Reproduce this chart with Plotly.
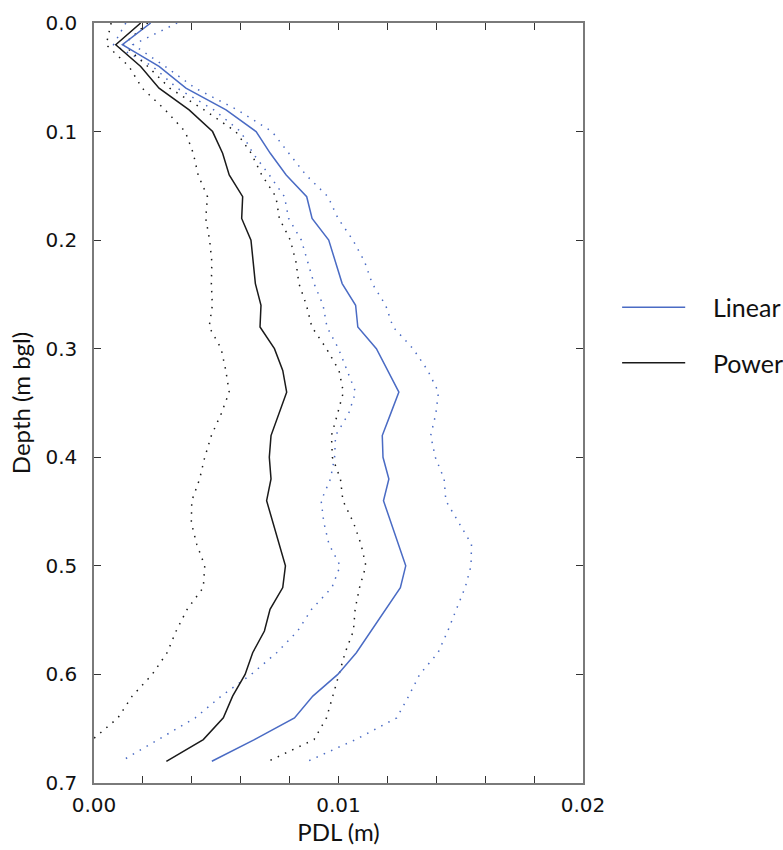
import plotly.graph_objects as go

# Depth below ground level (m)
depth = [0.00, 0.02, 0.04, 0.06, 0.08, 0.10, 0.12, 0.14, 0.16, 0.18, 0.20, 0.22,
         0.24, 0.26, 0.28, 0.30, 0.32, 0.34, 0.36, 0.38, 0.40, 0.42, 0.44, 0.46,
         0.48, 0.50, 0.52, 0.54, 0.56, 0.58, 0.60, 0.62, 0.64, 0.66, 0.68]

# Linear model PDL (m) and its bounds
linear = [0.00232, 0.00116, 0.00266, 0.00376, 0.00540, 0.00663, 0.00721, 0.00786, 0.00870,
          0.00892, 0.00960, 0.00988, 0.01015, 0.01070, 0.01079, 0.01155, 0.01201, 0.01247,
          0.01213, 0.01179, 0.01182, 0.01206, 0.01184, 0.01214, 0.01245, 0.01275, 0.01253,
          0.01193, 0.01131, 0.01073, 0.00997, 0.00895, 0.00820, 0.00656, 0.00482]
linear_lo = [0.00130, 0.00080, 0.00240, 0.00340, 0.00490, 0.00600, 0.00650, 0.00717, 0.00779,
             0.00796, 0.00848, 0.00874, 0.00900, 0.00937, 0.00953, 0.01000, 0.01035, 0.01070,
             0.01041, 0.00988, 0.00984, 0.00967, 0.00929, 0.00940, 0.00961, 0.01007, 0.00973,
             0.00890, 0.00833, 0.00747, 0.00643, 0.00520, 0.00414, 0.00264, 0.00111]
linear_hi = [0.00340, 0.00160, 0.00291, 0.00414, 0.00586, 0.00728, 0.00797, 0.00867, 0.00957,
             0.00998, 0.01059, 0.01107, 0.01138, 0.01193, 0.01223, 0.01305, 0.01365, 0.01409,
             0.01398, 0.01377, 0.01396, 0.01432, 0.01439, 0.01492, 0.01544, 0.01542, 0.01518,
             0.01482, 0.01447, 0.01407, 0.01332, 0.01287, 0.01238, 0.01070, 0.00874]

# Power model PDL (m) and its bounds
power = [0.00191, 0.00089, 0.00191, 0.00266, 0.00389, 0.00485, 0.00526, 0.00553, 0.00608,
         0.00604, 0.00642, 0.00650, 0.00660, 0.00683, 0.00679, 0.00738, 0.00772, 0.00788,
         0.00756, 0.00724, 0.00717, 0.00724, 0.00706, 0.00732, 0.00757, 0.00783, 0.00772,
         0.00720, 0.00697, 0.00649, 0.00618, 0.00567, 0.00529, 0.00447, 0.00296]
power_lo = [0.00070, 0.00050, 0.00143, 0.00197, 0.00291, 0.00373, 0.00406, 0.00426, 0.00464,
            0.00457, 0.00473, 0.00482, 0.00480, 0.00484, 0.00471, 0.00520, 0.00539, 0.00553,
            0.00520, 0.00480, 0.00453, 0.00432, 0.00400, 0.00398, 0.00420, 0.00453, 0.00447,
            0.00381, 0.00336, 0.00299, 0.00238, 0.00156, 0.00098, -0.00004, -0.00110]
power_hi = [0.00220, 0.00120, 0.00220, 0.00310, 0.00450, 0.00580, 0.00643, 0.00686, 0.00744,
            0.00758, 0.00803, 0.00826, 0.00838, 0.00869, 0.00891, 0.00951, 0.01002, 0.01020,
            0.00996, 0.00971, 0.00975, 0.01008, 0.01018, 0.01061, 0.01092, 0.01112, 0.01086,
            0.01068, 0.01061, 0.01027, 0.01002, 0.00975, 0.00951, 0.00900, 0.00713]

series_names = ["Linear", "Power"]

BLUE = "#4a6bc4"
BLACK = "#1a1a1a"
DOT = "1.5px,6.5px"

fig = go.Figure()

for vals in (linear_lo, linear_hi):
    fig.add_trace(go.Scatter(x=vals, y=depth, mode="lines", showlegend=False,
                             line=dict(color=BLUE, width=1.5, dash=DOT), hoverinfo="skip"))
for vals in (power_lo, power_hi):
    fig.add_trace(go.Scatter(x=vals, y=depth, mode="lines", showlegend=False,
                             line=dict(color=BLACK, width=1.5, dash=DOT), hoverinfo="skip"))

fig.add_trace(go.Scatter(x=linear, y=depth, mode="lines", name=series_names[0],
                         showlegend=False, line=dict(color=BLUE, width=1.5)))
fig.add_trace(go.Scatter(x=power, y=depth, mode="lines", name=series_names[1],
                         showlegend=False, line=dict(color=BLACK, width=1.5)))

# Legend (key lines + labels to the right of the plot area)
legend_rows = [(series_names[0], BLUE, 0.626), (series_names[1], BLACK, 0.553)]
for label, color, ypos in legend_rows:
    fig.add_shape(type="line", xref="paper", yref="paper",
                  x0=1.080, x1=1.209, y0=ypos, y1=ypos,
                  line=dict(color=color, width=1.5))
    fig.add_annotation(xref="paper", yref="paper", x=1.262, y=ypos,
                       xanchor="left", yanchor="middle", showarrow=False,
                       text=label, font=dict(family="Lato", size=25, color="#111111"))

axis_common = dict(
    showline=True, linecolor="#7a7a7a", linewidth=1.5, mirror="ticks",
    ticks="inside", ticklen=7, tickwidth=1.2, tickcolor="#333333",
    showgrid=False, zeroline=False, automargin=False,
    tickfont=dict(family="DejaVu Sans", size=20, color="#111111"),
)

fig.update_layout(
    width=783, height=850,
    margin=dict(l=94, r=200, t=23, b=67),
    paper_bgcolor="white", plot_bgcolor="white",
    xaxis=dict(range=[0, 0.02], tick0=0, dtick=0.01, tickformat=".2f",
               ticklabelstandoff=3,
               minor=dict(dtick=0.002, ticks="inside", ticklen=7, tickwidth=1.2,
                          tickcolor="#333333", showgrid=False),
               title=dict(text="PDL (m)", font=dict(family="Lato", size=24, color="#111111"),
                          standoff=2),
               **axis_common),
    yaxis=dict(range=[0.7, 0], tick0=0, dtick=0.1, tickformat=".1f",
               ticklabelstandoff=11,
               title=dict(text="Depth (m bgl)", font=dict(family="Lato", size=24, color="#111111"),
                          standoff=8),
               **axis_common),
    showlegend=False,
)

fig.write_html("out.html", config={"displayModeBar": False},
               post_script="document.body.style.margin='0';")
